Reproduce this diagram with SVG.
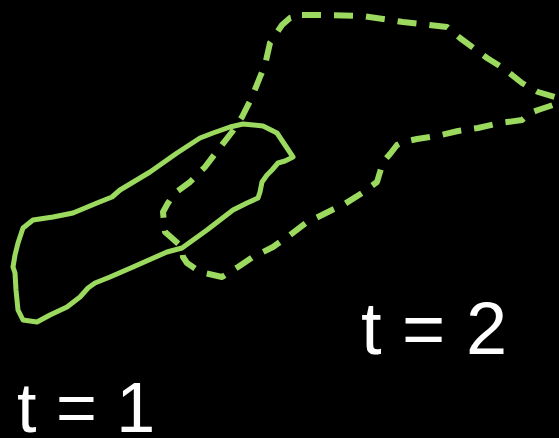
<svg xmlns="http://www.w3.org/2000/svg" width="559" height="438" viewBox="0 0 559 438">
<style>
.shape{fill:none;stroke:#9bd95f;stroke-linecap:round;stroke-linejoin:round}
.solid{stroke-width:5}
.dash{stroke-width:6;stroke-dasharray:19 13;stroke-linecap:butt}
.lbl{font-family:"Liberation Sans",Arial,sans-serif;fill:#ffffff}
</style>
<rect width="559" height="438" fill="#000000"/>
<g id="shape-t1">
<path class="shape solid" d="M243,124 L263,126 L277,133 L285,145 L293,157 L285,161 L278,163 L272,170 L267,175 L262,182 L260,192 L258,198 L247,203 L233,210 L207,230 L182,248 L167,252 L133,267 L110,277 L95,283 L88,288 L80,297 L67,307 L50,315 L37,322 L23,320 L18,310 L16,290 L15,273 L13,267 L15,255 L18,243 L23,228 L33,220 L53,217 L73,213 L97,203 L112,197 L120,190 L150,172 L177,153 L200,138 L213,133 L230,127 Z"/>
</g>
<g id="shape-t2">
<path class="shape dash" d="M302,15 L320,15 L363,16 L403,22 L447,27 L460,38 L487,58 L503,68 L522,83 L538,92 L558,98 L553,105 L538,110 L530,113 L522,120 L500,123 L478,128 L458,131 L437,136 L417,139 L403,142 L397,145 L390,154 L383,162 L377,182 L362,193 L343,205 L332,210 L312,220 L307,222 L290,235 L273,247 L253,257 L238,267 L222,277 L200,272 L187,263 L183,257 L182,247 L173,239 L165,232 L163,212 L168,203 L175,193 L190,182 L205,167 L218,150 L232,132 L242,117 L252,97 L260,77 L265,65 L270,43 L282,25 L290,18 Z"/>
</g>
<g id="labels">
<text class="lbl" x="17" y="432" font-size="70">t = 1</text>
<text class="lbl" x="361" y="354" font-size="74">t = 2</text>
</g>
</svg>
